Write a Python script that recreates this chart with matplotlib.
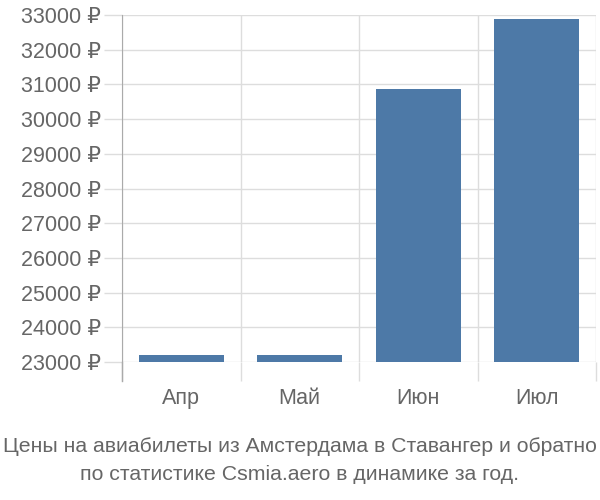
import matplotlib
matplotlib.use("Agg")
import matplotlib.pyplot as plt

months = ['Апр', 'Май', 'Июн', 'Июл']
prices = [23190, 23190, 30860, 32880]
yticks = list(range(23000, 34000, 1000))
title = 'Цены на авиабилеты из Амстердама в Ставангер и обратно\nпо статистике Csmia.aero в динамике за год.'

plt.rcParams['font.family'] = ['Liberation Sans', 'DejaVu Sans']
text_color = '#666666'
grid_color = '#dddddd'

fig = plt.figure(figsize=(6, 5), dpi=100)
ax = fig.add_axes([122 / 600, 1 - 362 / 500, (596 - 122) / 600, (362 - 15) / 500])

x = range(len(months))
ax.bar(x, [p - 23000 for p in prices], bottom=23000, width=0.72, color='#4d79a7', zorder=3)

ax.set_xlim(-0.5, len(months) - 0.5)
ax.set_ylim(23000, 33000)

# y axis: ticks as long grey marks, grid across
ax.set_yticks(yticks)
ax.set_yticklabels([f'{v} ₽' for v in yticks], fontsize=15.5, color=text_color)
ax.tick_params(axis='y', length=13, width=1, color=grid_color, pad=2)
ax.yaxis.grid(True, color=grid_color, linewidth=1, zorder=0)

# x axis: boundaries as ticks/grid, labels in the middle
bounds = [i - 0.5 for i in range(len(months) + 1)]
ax.set_xticks(bounds)
ax.set_xticklabels([])
ax.tick_params(axis='x', length=14, width=1, color=grid_color)
ax.xaxis.grid(True, color=grid_color, linewidth=1, zorder=0)
ax.set_xticks(list(x), minor=True)
ax.set_xticklabels(months, minor=True, fontsize=15.5, color=text_color)
ax.tick_params(axis='x', which='minor', length=0, pad=19)

for s in ['top', 'right', 'bottom']:
    ax.spines[s].set_visible(False)
ax.spines['left'].set_color('#aaaaaa')
ax.plot([-0.5, -0.5], [0, -19 / 347], color='#aaaaaa', lw=1,
        transform=ax.get_xaxis_transform(), clip_on=False)

fig.text(0.5, 1 - 460 / 500, title, ha='center', va='center', fontsize=15.3,
         color=text_color, linespacing=1.6)

fig.savefig('out.png', dpi=100)
